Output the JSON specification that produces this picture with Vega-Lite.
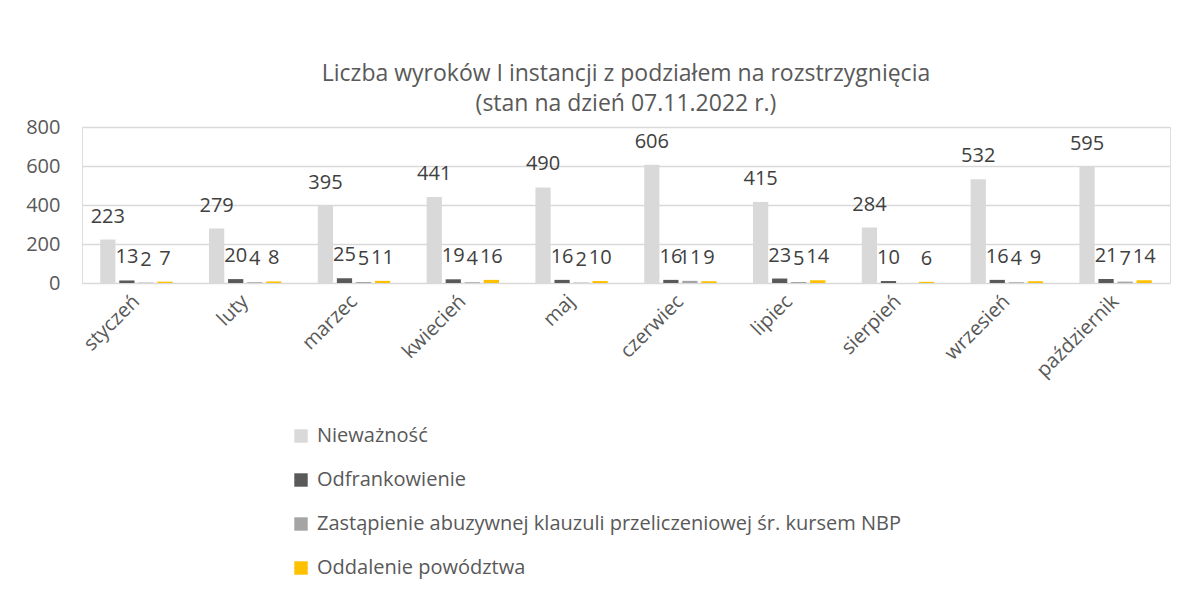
{
  "$schema": "https://vega.github.io/schema/vega-lite/v6.json",
  "width": 1088,
  "height": 156,
  "autosize": {"type": "none"},
  "padding": {"left": 82, "top": 127, "right": 19, "bottom": 316},
  "background": "white",
  "title": {
    "text": "Liczba wyroków I instancji z podziałem na rozstrzygnięcia",
    "subtitle": "(stan na dzień 07.11.2022 r.)",
    "anchor": "middle",
    "font": "Open Sans",
    "fontSize": 23,
    "fontWeight": "normal",
    "color": "#595959",
    "subtitleFont": "Open Sans",
    "subtitleFontSize": 23,
    "subtitleColor": "#595959",
    "subtitlePadding": 7,
    "offset": 1
  },
  "data": {
    "values": [
      {"miesiac": "styczeń", "kategoria": "Nieważność", "wartosc": 223},
      {"miesiac": "styczeń", "kategoria": "Odfrankowienie", "wartosc": 13},
      {"miesiac": "styczeń", "kategoria": "Zastąpienie abuzywnej klauzuli przeliczeniowej śr. kursem NBP", "wartosc": 2},
      {"miesiac": "styczeń", "kategoria": "Oddalenie powództwa", "wartosc": 7},
      {"miesiac": "luty", "kategoria": "Nieważność", "wartosc": 279},
      {"miesiac": "luty", "kategoria": "Odfrankowienie", "wartosc": 20},
      {"miesiac": "luty", "kategoria": "Zastąpienie abuzywnej klauzuli przeliczeniowej śr. kursem NBP", "wartosc": 4},
      {"miesiac": "luty", "kategoria": "Oddalenie powództwa", "wartosc": 8},
      {"miesiac": "marzec", "kategoria": "Nieważność", "wartosc": 395},
      {"miesiac": "marzec", "kategoria": "Odfrankowienie", "wartosc": 25},
      {"miesiac": "marzec", "kategoria": "Zastąpienie abuzywnej klauzuli przeliczeniowej śr. kursem NBP", "wartosc": 5},
      {"miesiac": "marzec", "kategoria": "Oddalenie powództwa", "wartosc": 11},
      {"miesiac": "kwiecień", "kategoria": "Nieważność", "wartosc": 441},
      {"miesiac": "kwiecień", "kategoria": "Odfrankowienie", "wartosc": 19},
      {"miesiac": "kwiecień", "kategoria": "Zastąpienie abuzywnej klauzuli przeliczeniowej śr. kursem NBP", "wartosc": 4},
      {"miesiac": "kwiecień", "kategoria": "Oddalenie powództwa", "wartosc": 16},
      {"miesiac": "maj", "kategoria": "Nieważność", "wartosc": 490},
      {"miesiac": "maj", "kategoria": "Odfrankowienie", "wartosc": 16},
      {"miesiac": "maj", "kategoria": "Zastąpienie abuzywnej klauzuli przeliczeniowej śr. kursem NBP", "wartosc": 2},
      {"miesiac": "maj", "kategoria": "Oddalenie powództwa", "wartosc": 10},
      {"miesiac": "czerwiec", "kategoria": "Nieważność", "wartosc": 606},
      {"miesiac": "czerwiec", "kategoria": "Odfrankowienie", "wartosc": 16},
      {"miesiac": "czerwiec", "kategoria": "Zastąpienie abuzywnej klauzuli przeliczeniowej śr. kursem NBP", "wartosc": 11},
      {"miesiac": "czerwiec", "kategoria": "Oddalenie powództwa", "wartosc": 9},
      {"miesiac": "lipiec", "kategoria": "Nieważność", "wartosc": 415},
      {"miesiac": "lipiec", "kategoria": "Odfrankowienie", "wartosc": 23},
      {"miesiac": "lipiec", "kategoria": "Zastąpienie abuzywnej klauzuli przeliczeniowej śr. kursem NBP", "wartosc": 5},
      {"miesiac": "lipiec", "kategoria": "Oddalenie powództwa", "wartosc": 14},
      {"miesiac": "sierpień", "kategoria": "Nieważność", "wartosc": 284},
      {"miesiac": "sierpień", "kategoria": "Odfrankowienie", "wartosc": 10},
      {"miesiac": "sierpień", "kategoria": "Oddalenie powództwa", "wartosc": 6},
      {"miesiac": "wrzesień", "kategoria": "Nieważność", "wartosc": 532},
      {"miesiac": "wrzesień", "kategoria": "Odfrankowienie", "wartosc": 16},
      {"miesiac": "wrzesień", "kategoria": "Zastąpienie abuzywnej klauzuli przeliczeniowej śr. kursem NBP", "wartosc": 4},
      {"miesiac": "wrzesień", "kategoria": "Oddalenie powództwa", "wartosc": 9},
      {"miesiac": "październik", "kategoria": "Nieważność", "wartosc": 595},
      {"miesiac": "październik", "kategoria": "Odfrankowienie", "wartosc": 21},
      {"miesiac": "październik", "kategoria": "Zastąpienie abuzywnej klauzuli przeliczeniowej śr. kursem NBP", "wartosc": 7},
      {"miesiac": "październik", "kategoria": "Oddalenie powództwa", "wartosc": 14}
    ]
  },
  "encoding": {
    "x": {
      "field": "miesiac",
      "type": "nominal",
      "sort": null,
      "scale": {"paddingInner": 0.3, "paddingOuter": 0.15},
      "axis": {
        "title": null,
        "labelAngle": -45,
        "labelAlign": "right",
        "labelBaseline": "middle",
        "labelPadding": 15,
        "labelFont": "Open Sans",
        "labelFontSize": 20,
        "labelColor": "#595959",
        "ticks": false,
        "domain": false
      }
    },
    "xOffset": {
      "field": "kategoria",
      "type": "nominal",
      "sort": ["Nieważność", "Odfrankowienie", "Zastąpienie abuzywnej klauzuli przeliczeniowej śr. kursem NBP", "Oddalenie powództwa"],
      "scale": {"paddingInner": 0.2, "paddingOuter": 0.1}
    },
    "y": {
      "field": "wartosc",
      "type": "quantitative",
      "scale": {"domain": [0, 800]},
      "axis": {
        "title": null,
        "values": [0, 200, 400, 600, 800],
        "labelFont": "Open Sans",
        "labelFontSize": 20,
        "labelColor": "#595959",
        "labelPadding": 22,
        "ticks": false,
        "domain": false,
        "grid": true,
        "gridColor": "#D9D9D9",
        "gridWidth": 1.5
      }
    }
  },
  "layer": [
    {
      "mark": {"type": "bar"},
      "encoding": {
        "color": {
          "field": "kategoria",
          "type": "nominal",
          "sort": ["Nieważność", "Odfrankowienie", "Zastąpienie abuzywnej klauzuli przeliczeniowej śr. kursem NBP", "Oddalenie powództwa"],
          "scale": {
            "domain": ["Nieważność", "Odfrankowienie", "Zastąpienie abuzywnej klauzuli przeliczeniowej śr. kursem NBP", "Oddalenie powództwa"],
            "range": ["#D9D9D9", "#595959", "#A5A5A5", "#FFC000"]
          },
          "legend": {
            "title": null,
            "orient": "none",
            "direction": "vertical",
            "legendX": 209,
            "legendY": 299,
            "symbolType": "square",
            "symbolSize": 180,
            "symbolStrokeWidth": 0,
            "labelFont": "Open Sans",
            "labelFontSize": 20,
            "labelColor": "#595959",
            "labelLimit": 900,
            "rowPadding": 24,
            "labelOffset": 6
          }
        }
      }
    },
    {
      "mark": {"type": "text", "baseline": "alphabetic", "dy": -17, "font": "Open Sans", "fontSize": 20, "color": "#404040"},
      "encoding": {
        "text": {"field": "wartosc", "type": "quantitative"}
      }
    }
  ]
}
